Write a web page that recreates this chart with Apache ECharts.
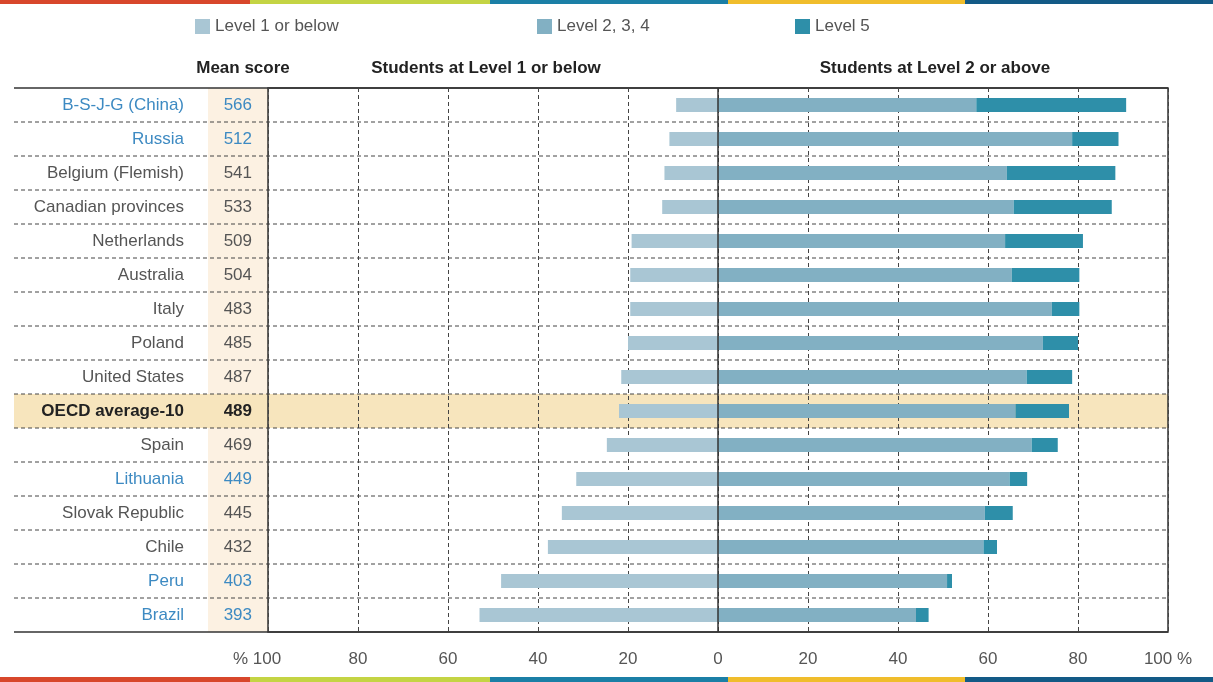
<!DOCTYPE html>
<html>
<head>
<meta charset="utf-8">
<script src="https://cdn.jsdelivr.net/npm/echarts@6/dist/echarts.min.js"></script>
<style>
html,body{margin:0;padding:0;background:#fff;}
#chart{width:1213px;height:682px;}
</style>
</head>
<body>
<div id="chart"></div>
<script>
// ---- data ----
var categories = ['B-S-J-G (China)','Russia','Belgium (Flemish)','Canadian provinces','Netherlands','Australia','Italy','Poland','United States','OECD average-10','Spain','Lithuania','Slovak Republic','Chile','Peru','Brazil'];
var meanScore = [566,512,541,533,509,504,483,485,487,489,469,449,445,432,403,393];
var level1OrBelow = [9.3,10.8,11.9,12.4,19.2,19.5,19.5,20.0,21.5,22.0,24.7,31.5,34.7,37.8,48.2,53.0];
var level234 = [57.4,78.7,64.2,65.7,63.8,65.3,74.2,72.2,68.6,66.1,69.7,64.8,59.3,59.0,50.9,44.0];
var level5 = [33.3,10.3,24.1,21.8,17.3,15.0,6.1,7.8,10.1,11.9,5.8,3.9,6.2,3.0,1.1,2.8];
var partners = ['B-S-J-G (China)','Russia','Lithuania','Peru','Brazil'];
var averageName = 'OECD average-10';
var xTicks = [-100,-80,-60,-40,-20,0,20,40,60,80,100];
var seriesNames = ['Level 1 or below','Level 2, 3, 4','Level 5'];
var headers = ['Mean score','Students at Level 1 or below','Students at Level 2 or above'];

// ---- style ----
var FONT = '"Liberation Sans", Arial, sans-serif';
var FS = 17;
var C1 = '#a9c6d4', C2 = '#82b0c3', C3 = '#2e8fa9';
var BLUE = '#3d8ac2', GRAY = '#555555';

var chart = echarts.init(document.getElementById('chart'));

function yLabel(value, idx) {
  var i = categories.indexOf(value);
  var k = value === averageName ? 'b' : (partners.indexOf(value) >= 0 ? 'u' : 'g');
  return '{n' + k + '|' + value + '}{s' + k + '|' + meanScore[i] + '}';
}

var headStyle = {fontSize: FS, fontWeight: 'bold', color: '#222', fontFamily: FONT};
var legText = {fontSize: FS, color: GRAY, fontFamily: FONT};

var option = {
  animation: false,
  textStyle: {fontFamily: FONT},
  title: [
    {text: headers[0], left: 238, top: 55, textAlign: 'center', textStyle: headStyle},
    {text: headers[1], left: 481, top: 55, textAlign: 'center', textStyle: headStyle},
    {text: headers[2], left: 930, top: 55, textAlign: 'center', textStyle: headStyle}
  ],
  legend: [
    {data: [seriesNames[0]], left: 190, top: 13, icon: 'rect', itemWidth: 15, itemHeight: 15, textStyle: legText},
    {data: [seriesNames[1]], left: 532, top: 13, icon: 'rect', itemWidth: 15, itemHeight: 15, textStyle: legText},
    {data: [seriesNames[2]], left: 790, top: 13, icon: 'rect', itemWidth: 15, itemHeight: 15, textStyle: legText}
  ],
  grid: {left: 268, right: 45, top: 88, bottom: 50, show: true, borderColor: '#333', borderWidth: 1.5, backgroundColor: 'transparent'},
  xAxis: {
    type: 'value', min: xTicks[0], max: xTicks[xTicks.length - 1], interval: 20,
    axisLine: {show: false}, axisTick: {show: false},
    splitLine: {show: true, lineStyle: {type: [4, 3], color: '#444', width: 1}},
    axisLabel: {
      margin: 19, fontSize: FS, color: GRAY, fontFamily: FONT,
      formatter: function (v) {
        if (v === xTicks[0]) return '{l|% ' + Math.abs(v) + '}';
        if (v === xTicks[xTicks.length - 1]) return '{r|' + v + ' %}';
        return String(Math.abs(v));
      },
      rich: {
        l: {fontSize: FS, color: GRAY, padding: [0, 22, 0, 0], fontFamily: FONT},
        r: {fontSize: FS, color: GRAY, padding: [0, 0, 0, 0], fontFamily: FONT}
      }
    }
  },
  yAxis: {
    type: 'category', inverse: true, data: categories,
    axisLine: {show: false}, axisTick: {show: false}, splitLine: {show: false},
    axisLabel: {
      margin: 16, formatter: yLabel,
      rich: {
        ng: {fontSize: FS, color: GRAY, fontFamily: FONT},
        nu: {fontSize: FS, color: BLUE, fontFamily: FONT},
        nb: {fontSize: FS, color: '#222', fontWeight: 'bold', fontFamily: FONT},
        sg: {fontSize: FS, color: GRAY, width: 68, align: 'right', fontFamily: FONT},
        su: {fontSize: FS, color: BLUE, width: 68, align: 'right', fontFamily: FONT},
        sb: {fontSize: FS, color: '#222', width: 68, align: 'right', fontWeight: 'bold', fontFamily: FONT}
      }
    }
  },
  series: [
    {
      name: seriesNames[0], type: 'bar', stack: 'total', barWidth: 14,
      itemStyle: {color: C1},
      data: level1OrBelow.map(function (v) { return -v; }),
      markLine: {
        silent: true, symbol: ['none', 'none'], label: {show: false},
        lineStyle: {type: 'solid', color: '#333', width: 1.5},
        data: [{xAxis: 0}]
      }
    },
    {name: seriesNames[1], type: 'bar', stack: 'total', barWidth: 14, itemStyle: {color: C2}, data: level234},
    {name: seriesNames[2], type: 'bar', stack: 'total', barWidth: 14, itemStyle: {color: C3}, data: level5}
  ]
};
chart.setOption(option);

// decorations positioned from the axes
function buildGraphics() {
  var g = [];
  var W = 1213, H = 682;
  var stripes = [[0, 250, '#d8472b'], [250, 490, '#c4d444'], [490, 728, '#1b7fa6'], [728, 965, '#f0bd2c'], [965, W, '#135a86']];
  stripes.forEach(function (s) {
    g.push({type: 'rect', shape: {x: s[0], y: 0, width: s[1] - s[0], height: 4}, style: {fill: s[2]}, z: 10});
    g.push({type: 'rect', shape: {x: s[0], y: H - 5, width: s[1] - s[0], height: 5}, style: {fill: s[2]}, z: 10});
  });
  var y0 = chart.convertToPixel({yAxisIndex: 0}, categories[0]);
  var y1 = chart.convertToPixel({yAxisIndex: 0}, categories[1]);
  var band = y1 - y0;
  var top = y0 - band / 2;
  var bottom = top + band * categories.length;
  var xl = chart.convertToPixel({xAxisIndex: 0}, xTicks[0]);
  var xr = chart.convertToPixel({xAxisIndex: 0}, xTicks[xTicks.length - 1]);
  var leftEdge = 14;
  g.push({type: 'rect', shape: {x: xl - 60, y: top, width: 60, height: bottom - top}, style: {fill: '#fcf1e2'}, z: -20});
  var ya = chart.convertToPixel({yAxisIndex: 0}, averageName);
  g.push({type: 'rect', shape: {x: leftEdge, y: ya - band / 2, width: xr - leftEdge, height: band}, style: {fill: '#f7e5bd'}, z: -15});
  for (var i = 1; i < categories.length; i++) {
    var y = top + band * i;
    g.push({type: 'line', shape: {x1: leftEdge, y1: y, x2: xr, y2: y}, style: {stroke: '#444', lineWidth: 1, lineDash: [4, 3]}, z: -1});
  }
  g.push({type: 'line', shape: {x1: leftEdge, y1: top, x2: xr, y2: top}, style: {stroke: '#333', lineWidth: 1.5}, z: -1});
  g.push({type: 'line', shape: {x1: leftEdge, y1: bottom, x2: xr, y2: bottom}, style: {stroke: '#333', lineWidth: 1.5}, z: -1});
  chart.setOption({graphic: {elements: g}});
}
buildGraphics();
</script>
</body>
</html>
